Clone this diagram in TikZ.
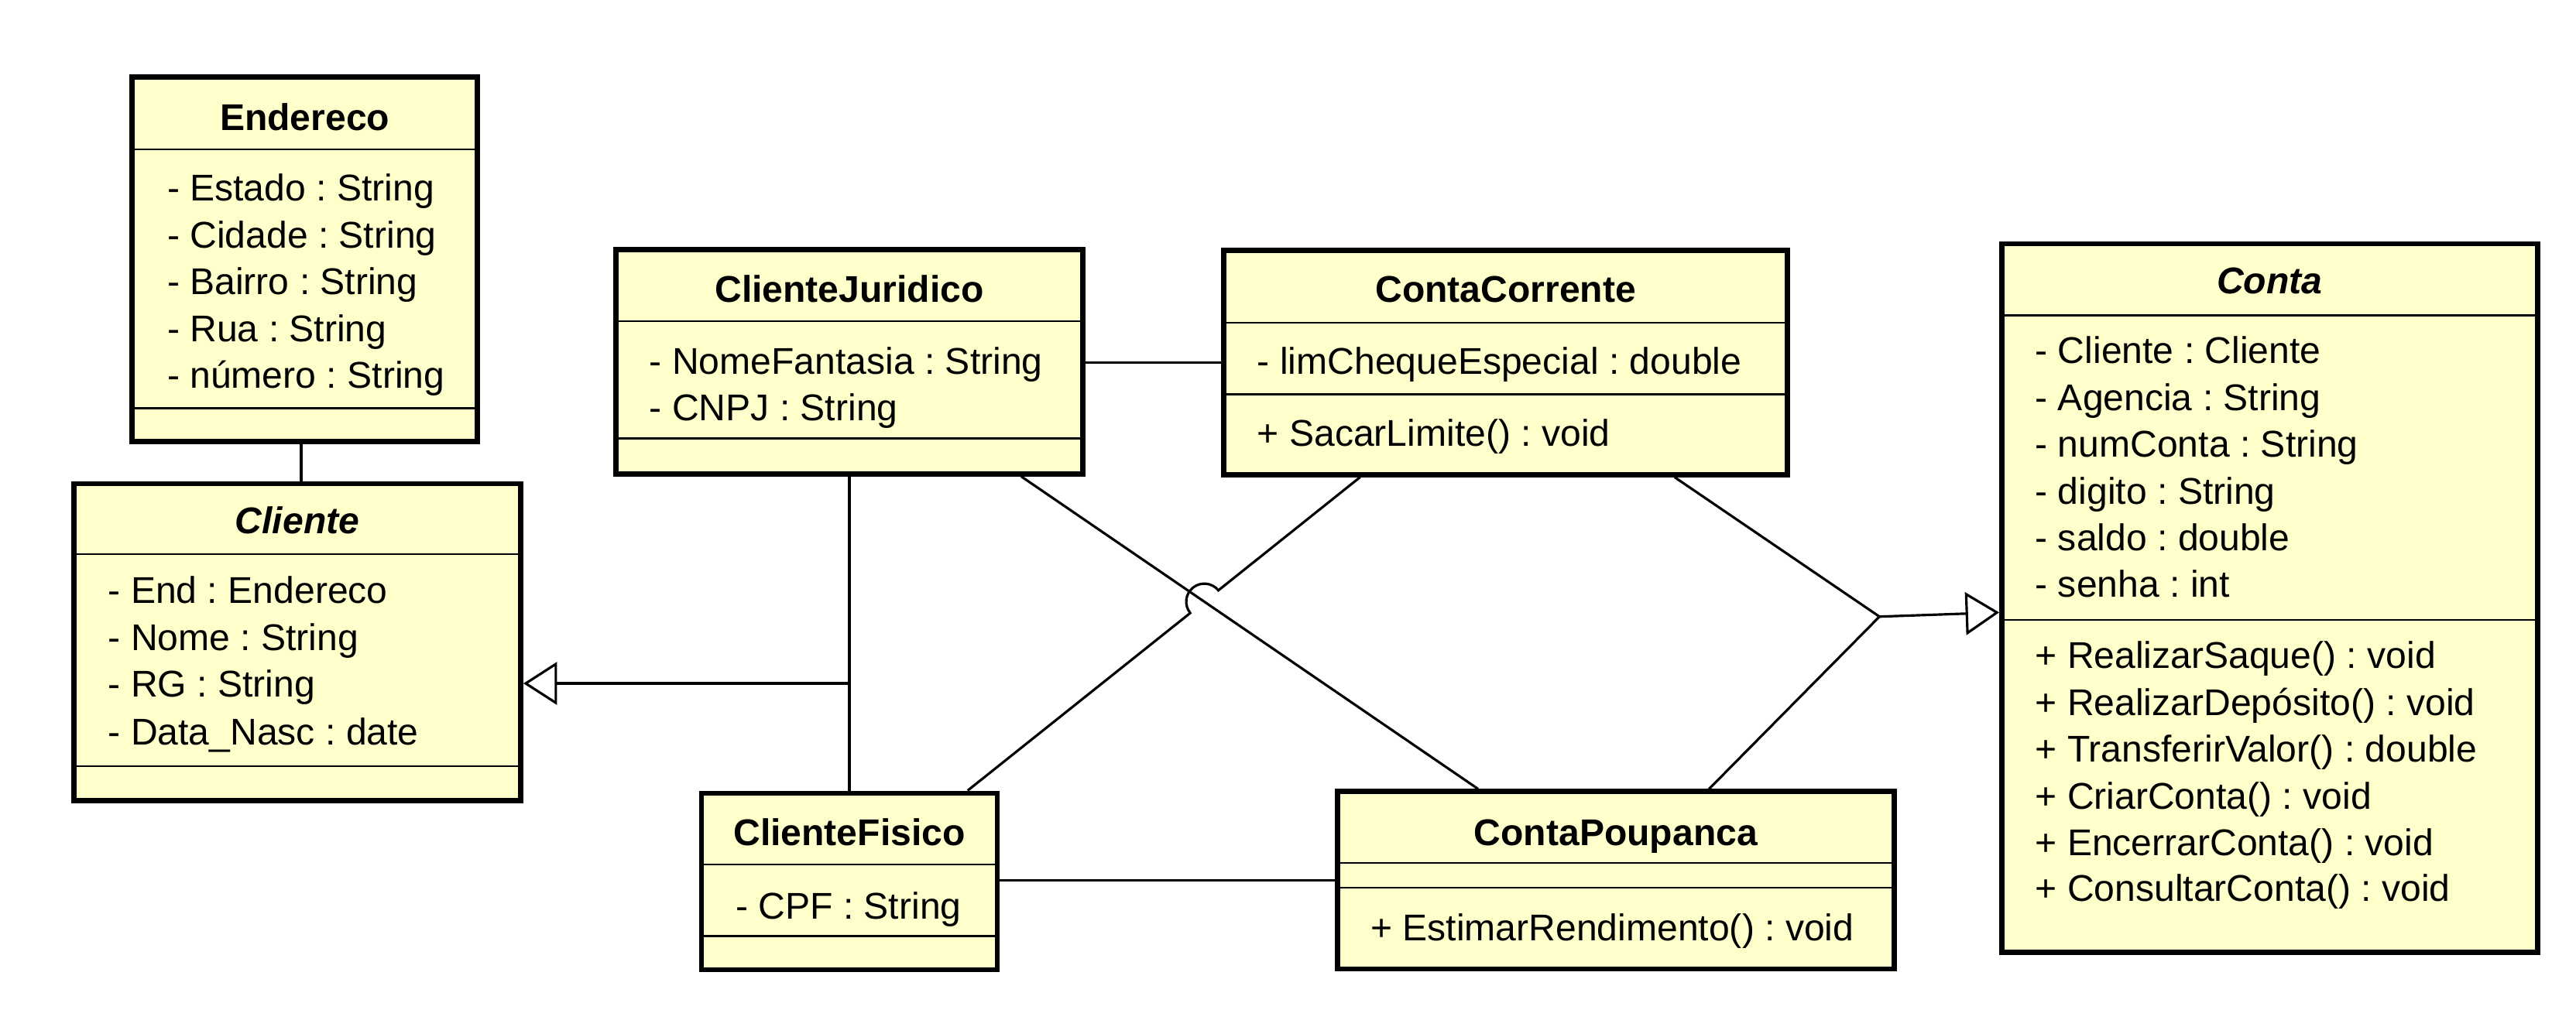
\documentclass[tikz,border=0pt]{standalone}
\usepackage{fontspec}
\setmainfont{Liberation Sans}
\usepackage{tikz}
\usetikzlibrary{arrows.meta}
\usetikzlibrary{calc}
\usetikzlibrary{fit}
\usetikzlibrary{intersections}
\frenchspacing

\definecolor{classfill}{RGB}{255,255,204}
\tikzset{
  classbox/.style={draw, line width=1.8pt, fill=classfill, inner sep=0pt},
  sepline/.style={line width=0.7pt},
  assoc/.style={line width=0.85pt},
  inherit/.style={line width=0.85pt, -{Triangle[open, length=0.41cm, width=0.52cm]}},
  member/.style={anchor=base west, inner sep=0pt, font=\fontsize{12.9}{15}\selectfont},
  classname/.style={anchor=base, inner sep=0pt, font=\fontsize{12.9}{15}\selectfont\bfseries},
}

\begin{document}
\begin{tikzpicture}[x=0.02cm, y=-0.02cm]
\useasboundingbox (0,0) rectangle (1568,625.4);

% Endereco
\node[classbox, fit={(80.5,47) (290.5,269)}] (endereco) {};
\draw[sepline] (80.5,91) -- (290.5,91);
\draw[sepline] (80.5,248.5) -- (290.5,248.5);
\node[classname] (endT) at (185.5,79.5) {Endereco};
\node[member] (end1) at (101.5,122.5) {- Estado : String};
\node[member] (end2) at (101.5,151) {- Cidade : String};
\node[member] (end3) at (101.5,179.5) {- Bairro : String};
\node[member] (end4) at (101.5,208) {- Rua : String};
\node[member] (end5) at (101.5,236.5) {- número : String};

% Cliente
\node[classbox, fit={(45,294.5) (317,487.5)}] (cliente) {};
\draw[sepline] (45,337.5) -- (317,337.5);
\draw[sepline] (45,466.5) -- (317,466.5);
\node[classname, font=\fontsize{12.9}{15}\selectfont\bfseries\itshape] (cliT) at (181,325) {Cliente};
\node[member] (cli1) at (65.5,367.5) {- End : Endereco};
\node[member] (cli2) at (65.5,396) {- Nome : String};
\node[member] (cli3) at (65.5,424.5) {- RG : String};
\node[member] (cli4) at (65.5,453.5) {- Data\_Nasc : date};

% ClienteJuridico
\node[classbox, fit={(375,152) (659,288.5)}] (juridico) {};
\draw[sepline] (375,195.5) -- (659,195.5);
\draw[sepline] (375,267) -- (659,267);
\node[classname] (jurT) at (517,184) {ClienteJuridico};
\node[member] (jur1) at (395,228) {- NomeFantasia : String};
\node[member] (jur2) at (395,256) {- CNPJ : String};

% ContaCorrente
\node[classbox, fit={(745,152.5) (1088,289)}] (corrente) {};
\draw[sepline] (745,196.5) -- (1088,196.5);
\draw[sepline] (745,240) -- (1088,240);
\node[classname] (corT) at (916.5,184) {ContaCorrente};
\node[member] (cor1) at (765,228) {- limChequeEspecial : double};
\node[member] (cor2) at (765,271.5) {+ SacarLimite() : void};

% Conta
\node[classbox, fit={(1218.5,148.5) (1544.5,580)}] (conta) {};
\draw[sepline] (1218.5,192) -- (1544.5,192);
\draw[sepline] (1218.5,377.5) -- (1544.5,377.5);
\node[classname, font=\fontsize{12.9}{15}\selectfont\bfseries\itshape] (conT) at (1381.5,179) {Conta};
\node[member] (con1) at (1238.5,221.5) {- Cliente : Cliente};
\node[member] (con2) at (1238.5,250) {- Agencia : String};
\node[member] (con3) at (1238.5,278.5) {- numConta : String};
\node[member] (con4) at (1238.5,307) {- digito : String};
\node[member] (con5) at (1238.5,335.5) {- saldo : double};
\node[member] (con6) at (1238.5,363.5) {- senha : int};
\node[member] (con7) at (1238.5,407) {+ RealizarSaque() : void};
\node[member] (con8) at (1238.5,435.5) {+ RealizarDepósito() : void};
\node[member] (con9) at (1238.5,464) {+ TransferirValor() : double};
\node[member] (con10) at (1238.5,492.5) {+ CriarConta() : void};
\node[member] (con11) at (1238.5,521) {+ EncerrarConta() : void};
\node[member] (con12) at (1238.5,549) {+ ConsultarConta() : void};

% ClienteFisico
\node[classbox, fit={(427,483) (607,590.5)}] (fisico) {};
\draw[sepline] (427,526.5) -- (607,526.5);
\draw[sepline] (427,570) -- (607,570);
\node[classname] (fisT) at (517,515) {ClienteFisico};
\node[member] (fis1) at (447.5,559.5) {- CPF : String};

% ContaPoupanca
\node[classbox, fit={(814,482) (1153,590)}] (poupanca) {};
\draw[sepline] (814,525.5) -- (1153,525.5);
\draw[sepline] (814,540.5) -- (1153,540.5);
\node[classname] (pouT) at (983.5,515) {ContaPoupanca};
\node[member] (pou1) at (834,573) {+ EstimarRendimento() : void};

% connector ends
\coordinate (endcli) at ($(endereco.south)+(-2.2,0)$);
\coordinate (jurpou) at ($(juridico.south west)!0.864!(juridico.south east)$);
\coordinate (poujur) at ($(poupanca.north west)!0.255!(poupanca.north east)$);
\coordinate (corfis) at ($(corrente.south west)!0.244!(corrente.south east)$);
\coordinate (fiscor) at ($(fisico.north west)!0.893!(fisico.north east)$);
\coordinate (corcon) at ($(corrente.south west)!0.797!(corrente.south east)$);
\coordinate (poucon) at ($(poupanca.north west)!0.666!(poupanca.north east)$);
\coordinate (contain) at ($(conta.north west)!0.52!(conta.south west)$);
\coordinate (gen) at ($(juridico.south)!0.659!(fisico.north)$);
\coordinate (join) at (1144,375.5);

\draw[assoc] (endcli) -- (endcli |- cliente.north);
\draw[assoc] (juridico.south) -- (fisico.north);
\draw[inherit] (gen) -- (gen -| cliente.east);
\draw[assoc] (corrente.west) -- (corrente.west -| juridico.east);
\draw[assoc] (poupanca.west) -- (poupanca.west -| fisico.east);
\draw[assoc, name path=jp] (jurpou) -- (poujur);
\path[name path=cf] (corfis) -- (fiscor);
\path[name intersections={of=jp and cf, by=hop}];
\draw[assoc] (corfis) -- ($(hop)!0.22cm!(corfis)$)
  arc[start angle=38.9, end angle=218.9, radius=0.22cm] -- (fiscor);
\draw[assoc] (corcon) -- (join);
\draw[assoc] (poucon) -- (join);
\draw[inherit] (join) -- (contain);
\end{tikzpicture}
\end{document}
